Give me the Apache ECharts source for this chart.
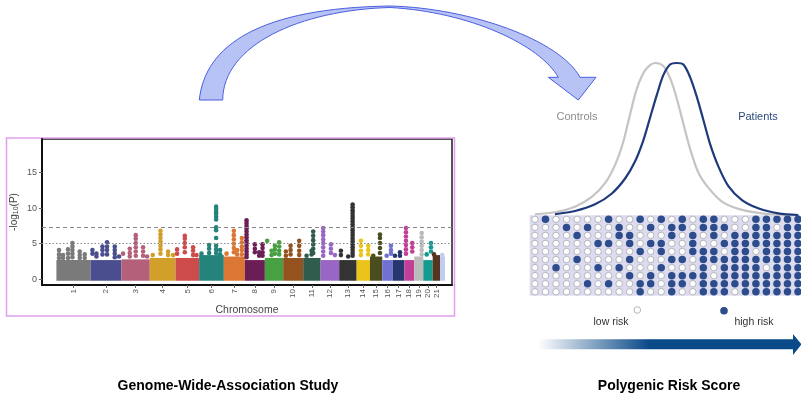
<!DOCTYPE html>
<html>
<head>
<meta charset="utf-8">
<title>GWAS to polygenic risk score</title>
<script src="https://cdn.jsdelivr.net/npm/echarts@6/dist/echarts.min.js"></script>
<style>
  html, body { margin: 0; padding: 0; background: #fff; }
  #chart { width: 801px; height: 400px; }
</style>
</head>
<body>
<div id="chart"></div>
<script>
// Manhattan plot -------------------------------------------------------
const chromNames = ['1', '2', '3', '4', '5', '6', '7', '8', '9', '10', '11',
  '12', '13', '14', '15', '16', '17', '18', '19', '20', '21', '22']
// width of each chromosome on the x axis
const chromLen = [34, 31, 28.3, 25.7, 23.6, 24.7, 21, 20, 18.3, 20, 17.4,
  18.6, 17.4, 13.3, 12.3, 10.4, 11.6, 10, 9, 9.4, 7.3, 5]
const chromColors = ['#7a7a7a', '#4b4e8e', '#b4607a', '#d39f2b', '#cd4b4b',
  '#24837a', '#dc7634', '#6b1e56', '#47a142', '#94521f', '#2f5c4c',
  '#9a66c6', '#333333', '#ebc31b', '#4a4d1e', '#7070d3', '#263670',
  '#c23e97', '#bbbbbb', '#159a8f', '#553420', '#c4cbf0']
// the dense band of SNPs at the bottom of each chromosome
const blockBase = -0.2
const blockTop = [2.7, 2.7, 2.8, 3.0, 3.0, 3.4, 3.2, 2.7, 3.0, 3.0, 3.0,
  2.7, 2.7, 2.7, 3.2, 2.7, 2.7, 2.7, 3.2, 2.7, 3.4, 3.2]
// single SNPs above the band: [position inside chromosome, [-log10 p values]]
const chromPeaks = [
  [[2.6, [4.1, 3.5, 3.0]], [6.6, [3.4, 3.0]], [11.6, [4.2, 3.6, 3.0]], [16, [5.1, 4.6, 4.1, 3.6, 3.1]], [23.3, [3.9, 3.4, 3.0]], [28.3, [3.5, 3.0]]],
  [[2, [4.1, 3.6]], [6, [3.6, 3.2]], [12, [4.6, 4.1, 3.5]], [16.6, [5.2, 4.6, 4.1, 3.5]], [24.3, [4.6, 4.1, 3.6, 3.1]], [28.6, [3.2]]],
  [[1.6, [3.6]], [8.3, [4.3, 3.7, 3.2]], [14.3, [6.2, 5.7, 5.1, 4.5, 3.9, 3.3]], [21.6, [4.5, 3.9, 3.3]], [25.6, [3.2]]],
  [[3, [3.4]], [10.7, [6.8, 6.3, 5.8, 5.3, 4.7, 4.2, 3.6]], [18.3, [3.9, 3.4]], [23.3, [3.4]]],
  [[1.6, [4.2, 3.6]], [9.3, [6.1, 5.7, 5.1, 4.5, 3.8]], [17.6, [4.5, 4.0, 3.4]], [21, [3.4]]],
  [[2.4, [3.6]], [10, [4.8, 4.3, 3.7]], [17, [10.2, 9.9, 9.5, 9.2, 8.8, 8.4, 7.3, 6.9, 5.8, 4.7, 4.2, 3.7]], [21, [4.1, 3.5]]],
  [[2.7, [3.6]], [10, [6.8, 6.2, 5.6, 5.0, 4.4, 3.8]], [13.3, [4.1, 3.5]], [18, [5.8, 5.2, 4.6, 4.1, 3.5]]],
  [[1.7, [8.3, 7.9, 7.5, 7.1, 6.7, 6.3, 5.9, 5.5, 5.1, 4.7, 4.3, 3.9, 3.5, 3.1]], [10, [4.9, 4.3, 3.8]], [14.3, [3.8, 3.3]], [17.7, [4.9, 4.4, 3.8, 3.3]]],
  [[2.3, [5.4]], [6.7, [4.0, 3.4]], [10, [4.7, 4.2, 3.6]], [14.3, [5.2, 4.6, 4.0, 3.5]]],
  [[2.7, [3.9, 3.3]], [7.4, [4.7, 4.1, 3.5]], [16, [5.4, 4.7, 4.0, 3.4]]],
  [[3.4, [3.3]], [8.4, [4.0, 3.5]], [10, [6.7, 6.1, 5.5, 4.9, 4.3, 3.7]]],
  [[2.6, [7.2, 6.7, 6.2, 5.6, 5.1, 4.5, 3.9, 3.3]], [10.3, [4.9, 4.3, 3.7]], [14.3, [3.4]]],
  [[1.7, [4.0, 3.4]], [9, [3.2]], [13.4, [10.5, 10.1, 9.7, 9.3, 8.9, 8.5, 8.1, 7.7, 7.3, 6.9, 6.5, 6.1, 5.7, 5.3, 4.9, 4.5, 4.1, 3.7, 3.3]]],
  [[4.3, [5.4, 4.7, 4.0, 3.4]], [11.6, [4.7, 4.1, 3.5]]],
  [[3.3, [3.3]], [10, [6.3, 5.8, 5.1, 4.4, 3.7]]],
  [[4.4, [3.3]], [8.7, [4.7, 4.1, 3.6]]],
  [[2.3, [3.3]], [7.3, [3.8, 3.3]]],
  [[1.7, [7.2, 6.6, 6.0, 5.4, 4.8, 4.2, 3.6]], [8, [5.1, 4.5, 3.9]]],
  [[7.4, [6.5, 5.9, 5.3, 4.7, 4.1, 3.5]]],
  [[3.4, [3.5]], [7.7, [5.1, 4.5, 3.9]]],
  [[1.3, [3.5]]],
  [[2.3, [3.4]]]
]
const yTicks = [0, 5, 10, 15]
const genomeWideLine = 7.3
const suggestiveLine = 5

// polygenic score distributions: [score, density] -----------------------
const controlsCurve = [[1.8, 0.005], [9.2, 0.018], [16.6, 0.055], [22.8, 0.12], [27.7, 0.21],
  [31.4, 0.33], [34.4, 0.48], [36.9, 0.66], [39.4, 0.83], [42.4, 0.95], [46.1, 1.0],
  [49.2, 0.98], [51.7, 0.9], [54.1, 0.77], [56.6, 0.6], [59.0, 0.44], [62.1, 0.28],
  [65.8, 0.18], [70.7, 0.09], [76.9, 0.04], [85.5, 0.011], [95.3, 0]]
const patientsCurve = [[9.2, 0.005], [16.6, 0.026], [24.0, 0.07], [30.1, 0.14], [35.1, 0.24],
  [38.7, 0.35], [41.8, 0.49], [44.3, 0.64], [46.8, 0.79], [49.2, 0.92], [51.7, 0.99],
  [54.1, 1.0], [56.6, 0.99], [59.0, 0.91], [61.5, 0.78], [63.9, 0.63], [66.4, 0.47],
  [69.5, 0.32], [73.2, 0.19], [78.1, 0.1], [84.2, 0.044], [91.6, 0.011], [99.0, 0]]

// risk matrix: 10 rows x 26 individuals, 1 = high risk
const riskRows = [
  '01000001001010101100011111',
  '00010100100101101110011011',
  '00001000110001010101111111',
  '00000011010110010011111111',
  '00000000001010011101101111',
  '00001000010001101111111111',
  '00100010100010001011110111',
  '00000000010101111011111111',
  '00000101001101101111111111',
  '00000000001001001110111111'
]

// build series data
let offset = 0
const chromStart = []
const chromMid = []
chromLen.forEach(len => {
  chromStart.push(offset)
  chromMid.push(offset + len / 2)
  offset += len
})
const blockData = chromLen.map((len, i) => [chromStart[i], chromStart[i] + len, blockTop[i], i])
const snpData = []
chromPeaks.forEach((peaks, i) => {
  peaks.forEach(([pos, vals]) => {
    vals.forEach(v => {
      snpData.push({ value: [chromStart[i] + pos, v], itemStyle: { color: chromColors[i] } })
    })
  })
})
const highRisk = []
const lowRisk = []
riskRows.forEach((row, r) => {
  row.split('').forEach((c, col) => {
    if (c === '1') highRisk.push([col, r])
    else lowRisk.push([col, r])
  })
})

// curved arrow from the GWAS panel to the PRS panel (decoration)
const arrowPath = 'M199.3,100 C205,45 260,8 390,6 C470,8 560,40 580,77.3 L596,77.3 L578.3,100 ' +
  'L548.3,77.3 L558.3,77.3 C540,45 470,12 390,7.5 C300,10 223,45 222.7,100 Z'

const navy = '#2c4c8c'
const chart = echarts.init(document.getElementById('chart'))
chart.setOption({
  animation: false,
  backgroundColor: '#fff',
  grid: [
    { left: 42, right: 349, top: 139, bottom: 115, show: true, borderColor: '#1a1a1a', borderWidth: 1.5, outerBoundsMode: 'none' },
    { left: 530, right: 0, top: 63, bottom: 185, outerBoundsMode: 'none' },
    { left: 529.7, right: 0.9, top: 215.3, bottom: 104.2, show: true, borderWidth: 0, backgroundColor: '#dddcef', outerBoundsMode: 'none' }
  ],
  xAxis: [
    {
      gridIndex: 0, type: 'value', min: -14.4, max: 395.3,
      name: 'Chromosome', nameLocation: 'middle', nameGap: 20, nameMoveOverlap: false,
      nameTextStyle: { fontSize: 10.5, color: '#444', fontFamily: 'Liberation Sans' },
      axisLine: { show: true, onZero: false, lineStyle: { color: '#111', width: 2 } },
      axisTick: { show: true, customValues: chromMid, length: 3, lineStyle: { color: '#666' } },
      axisLabel: {
        customValues: chromMid, rotate: 90, fontSize: 8, color: '#555', margin: 4,
        fontFamily: 'Liberation Sans',
        formatter: v => {
          let best = 0
          chromMid.forEach((m, i) => { if (Math.abs(m - v) < Math.abs(chromMid[best] - v)) best = i })
          return chromNames[best]
        }
      },
      splitLine: { show: false }
    },
    { gridIndex: 1, type: 'value', min: 0, max: 100, show: false },
    { gridIndex: 2, type: 'value', min: -0.5, max: 25.2, show: false }
  ],
  yAxis: [
    {
      gridIndex: 0, type: 'value', min: -0.8, max: 19.7,
      name: '-log{sub|10}(P)', nameLocation: 'middle', nameGap: 22, nameRotate: 90, nameMoveOverlap: false,
      nameTextStyle: {
        fontSize: 10, color: '#444', fontFamily: 'Liberation Sans',
        rich: { sub: { fontSize: 7, color: '#444', padding: [5, 0, 0, 0] } }
      },
      axisLine: { show: true, onZero: false, lineStyle: { color: '#111', width: 2 } },
      axisTick: { show: true, customValues: yTicks, length: 3, lineStyle: { color: '#666' } },
      axisLabel: { customValues: yTicks, fontSize: 9, color: '#555', margin: 5, fontFamily: 'Liberation Sans' },
      splitLine: { show: false }
    },
    { gridIndex: 1, type: 'value', min: 0, max: 1, show: false },
    { gridIndex: 2, type: 'value', min: -0.5, max: 9.5, inverse: true, show: false }
  ],
  series: [
    {
      type: 'custom', xAxisIndex: 0, yAxisIndex: 0, data: blockData, z: 2,
      renderItem: (params, api) => {
        const p0 = api.coord([api.value(0), api.value(2)])
        const p1 = api.coord([api.value(1), blockBase])
        return {
          type: 'rect',
          shape: { x: p0[0], y: p0[1], width: p1[0] - p0[0], height: p1[1] - p0[1] },
          style: { fill: chromColors[api.value(3)] }
        }
      }
    },
    {
      type: 'scatter', xAxisIndex: 0, yAxisIndex: 0, data: snpData, symbolSize: 4.6, z: 3,
      itemStyle: { opacity: 1 },
      emphasis: { disabled: true },
      markLine: {
        silent: true, symbol: 'none', label: { show: false },
        data: [
          { yAxis: genomeWideLine, lineStyle: { color: '#888', type: [4, 3], width: 1 } },
          { yAxis: suggestiveLine, lineStyle: { color: '#888', type: [1.5, 2], width: 1 } }
        ]
      }
    },
    {
      name: 'Controls', type: 'line', xAxisIndex: 1, yAxisIndex: 1, data: controlsCurve,
      smooth: 0.3, showSymbol: false, clip: false, z: 4,
      lineStyle: { color: '#c4c4c4', width: 2.2 }
    },
    {
      name: 'Patients', type: 'line', xAxisIndex: 1, yAxisIndex: 1, data: patientsCurve,
      smooth: 0.3, showSymbol: false, clip: false, z: 5,
      lineStyle: { color: '#1f3a7c', width: 2.2 }
    },
    {
      type: 'scatter', xAxisIndex: 2, yAxisIndex: 2, data: lowRisk, symbolSize: 6.5,
      itemStyle: { color: '#fff', borderColor: '#b4b4bc', borderWidth: 1, opacity: 1 },
      emphasis: { disabled: true }
    },
    {
      type: 'scatter', xAxisIndex: 2, yAxisIndex: 2, data: highRisk, symbolSize: 7.5,
      itemStyle: { color: navy, opacity: 1 },
      emphasis: { disabled: true }
    },
    {
      type: 'custom', coordinateSystem: 'none', data: [0], silent: true, z: 1,
      renderItem: () => ({
        type: 'path',
        shape: { pathData: arrowPath },
        style: { fill: '#b7c3f5', stroke: '#4b5fe0', lineWidth: 1 }
      })
    }
  ],
  graphic: [
    // frame around the Manhattan plot
    { type: 'rect', z: 0, shape: { x: 6.5, y: 138, width: 448, height: 178 },
      style: { fill: 'none', stroke: '#e0a0ee', lineWidth: 1.5 } },
    { type: 'text', x: 577, y: 117, z: 6,
      style: { text: 'Controls', fill: '#8c8c8c', font: '11px "Liberation Sans"', align: 'center', verticalAlign: 'middle' } },
    { type: 'text', x: 758, y: 117, z: 6,
      style: { text: 'Patients', fill: '#2c4a7c', font: '11px "Liberation Sans"', align: 'center', verticalAlign: 'middle' } },
    // legend of the risk matrix
    { type: 'circle', shape: { cx: 637.3, cy: 310, r: 3.3 }, style: { fill: '#fff', stroke: '#b4b4bc', lineWidth: 1 } },
    { type: 'text', x: 611, y: 322, style: { text: 'low risk', fill: '#333', font: '10.5px "Liberation Sans"', align: 'center', verticalAlign: 'middle' } },
    { type: 'circle', shape: { cx: 724, cy: 310.7, r: 3.8 }, style: { fill: navy } },
    { type: 'text', x: 754, y: 322, style: { text: 'high risk', fill: '#333', font: '10.5px "Liberation Sans"', align: 'center', verticalAlign: 'middle' } },
    // risk gradient arrow
    { type: 'polygon',
      shape: { points: [[538, 339.3], [793, 339.3], [793, 334], [801.5, 344.3], [793, 355], [793, 349.3], [538, 349.3]] },
      style: { fill: { type: 'linear', x: 0, y: 0, x2: 1, y2: 0, colorStops: [
        { offset: 0, color: '#ffffff' }, { offset: 0.42, color: '#0b4a89' }, { offset: 1, color: '#0b4a89' }] } } },
    // panel titles
    { type: 'text', x: 228, y: 386,
      style: { text: 'Genome-Wide-Association Study', fill: '#000', font: 'bold 14px "Liberation Sans"', align: 'center', verticalAlign: 'middle' } },
    { type: 'text', x: 669, y: 386,
      style: { text: 'Polygenic Risk Score', fill: '#000', font: 'bold 14px "Liberation Sans"', align: 'center', verticalAlign: 'middle' } }
  ]
})
</script>
</body>
</html>
